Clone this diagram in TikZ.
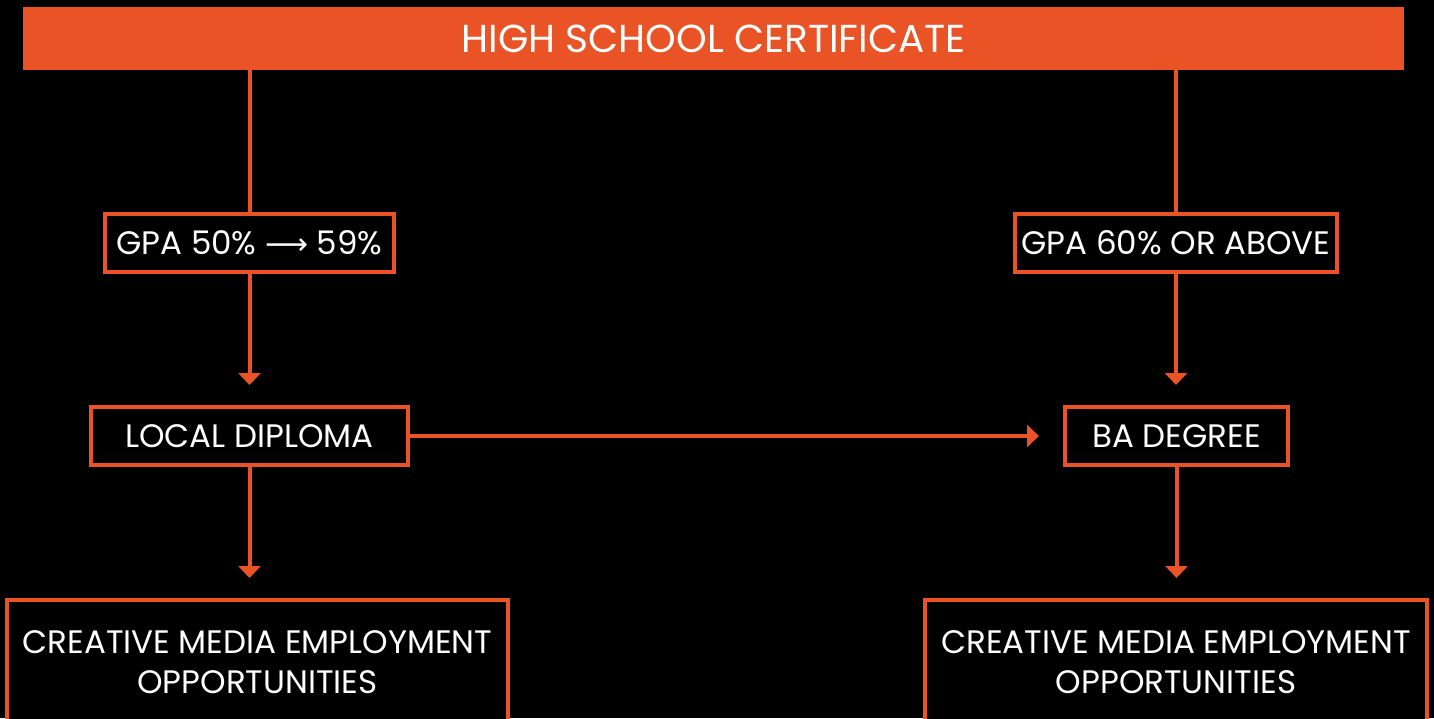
\documentclass[tikz,border=0pt]{standalone}
\usepackage{fontspec}
\setmainfont{Poppins}
\newfontfamily\arrowfont{DejaVu Sans}
\usepackage{xcolor}
\usetikzlibrary{arrows.meta}
\definecolor{hsorange}{HTML}{E95325}
\newcommand{\bw}{4pt}   % border and line width
\tikzset{
  box/.style={draw=hsorange, line width=\bw, fill=black, text=white,
              inner sep=0pt, align=center, font=\fontsize{32.5}{40}\selectfont},
  link/.style={draw=hsorange, line width=\bw},
  arr/.style={link, -{Triangle[width=22pt,length=12pt]}}
}
\begin{document}
\begin{tikzpicture}[x=1pt, y=-1pt]
  \useasboundingbox[fill=black] (0,0) rectangle (1434,718);
  % top bar
  \node[fill=hsorange, text=white, minimum width=1381pt, minimum height=63pt,
        inner sep=0pt, font=\fontsize{39}{44}\selectfont] (hsc) at (713.5,38.5) {HIGH SCHOOL CERTIFICATE};
  % left column
  \node[box, minimum width=289pt, minimum height=58pt] (gpalow) at (249.5,243) {GPA 50\% {\arrowfont\fontsize{30}{40}\selectfont ⟶} 59\%};
  \node[box, minimum width=317pt, minimum height=58pt] (diploma) at (249.5,436) {LOCAL DIPLOMA};
  \node[box, minimum width=501pt, minimum height=124pt] (jobleft) at (257.5,662) {CREATIVE MEDIA EMPLOYMENT\\OPPORTUNITIES};
  % right column
  \node[box, minimum width=322pt, minimum height=58pt] (gpahigh) at (1176,243) {GPA 60\% OR ABOVE};
  \node[box, minimum width=223pt, minimum height=58pt] (degree) at (1176.5,436) {BA DEGREE};
  \node[box, minimum width=502pt, minimum height=124pt] (jobright) at (1176,662) {CREATIVE MEDIA EMPLOYMENT\\OPPORTUNITIES};
  % connectors
  \draw[link] (gpalow.north |- hsc.south) -- (gpalow.north);
  \draw[link] (gpahigh.north |- hsc.south) -- (gpahigh.north);
  \draw[arr, shorten >=20pt] (gpalow.south) -- (gpalow.south |- diploma.north);
  \draw[arr, shorten >=20pt] (gpahigh.south) -- (gpahigh.south |- degree.north);
  \draw[arr, shorten >=20pt] (diploma.south) -- (diploma.south |- jobleft.north);
  \draw[arr, shorten >=20pt] (degree.south) -- (degree.south |- jobright.north);
  \draw[arr, shorten >=24pt] (diploma.east) -- (degree.west);
\end{tikzpicture}
\end{document}
